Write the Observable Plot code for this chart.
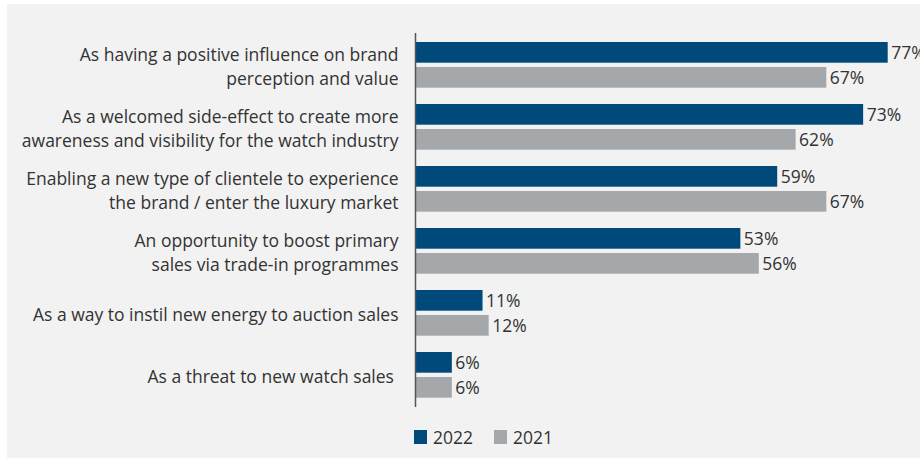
<!DOCTYPE html>
<html>
<head>
<meta charset="utf-8">
<script src="https://cdn.jsdelivr.net/npm/d3@7"></script>
<script src="https://cdn.jsdelivr.net/npm/@observablehq/plot@0.6"></script>
<style>
  html, body { margin: 0; padding: 0; background: #ffffff; }
  #panel { position: absolute; left: 7px; top: 4px; width: 913px; height: 454px; background: #f1f2f1; overflow: hidden; }
  .lg-swatch > svg { margin-right: 6px !important; }
  .lg-swatch { margin-right: 21px !important; }
</style>
</head>
<body>
<div id="panel"></div>
<script>
const questions = [
  "As having a positive influence on brand\nperception and value",
  "As a welcomed side-effect to create more\nawareness and visibility for the watch industry",
  "Enabling a new type of clientele to experience\nthe brand / enter the luxury market",
  "An opportunity to boost primary\nsales via trade-in programmes",
  "As a way to instil new energy to auction sales",
  "As a threat to new watch sales\u00a0"
];
const values2022 = [77, 73, 59, 53, 11, 6];
const values2021 = [67, 62, 67, 56, 12, 6];
const years = ["2022", "2021"];
const colors = ["#00497b", "#a5a8aa"];

const rows2022 = questions.map((q, i) => ({q, year: years[0], v: values2022[i]}));
const rows2021 = questions.map((q, i) => ({q, year: years[1], v: values2021[i]}));

const font = "'Open Sans', sans-serif";
const textColor = "#333333";

const chart = Plot.plot({
  width: 913,
  height: 410,
  marginLeft: 408,
  marginRight: 32.3,
  marginTop: 29,
  marginBottom: 7,
  style: {fontFamily: font, fontSize: "17.5px", background: "transparent", color: textColor},
  x: {domain: [0, 77], axis: null},
  y: {domain: questions, padding: 0, axis: null},
  color: {domain: years, range: colors},
  marks: [
    Plot.barX(rows2022, {x: "v", y: "q", fill: "year", insetTop: 8, insetBottom: 33.3}),
    Plot.barX(rows2021, {x: "v", y: "q", fill: "year", insetTop: 33, insetBottom: 8.3}),
    Plot.text(rows2022, {x: "v", y: "q", text: d => d.v + "%", textAnchor: "start", dx: 3, dy: -12.6, fill: textColor}),
    Plot.text(rows2021, {x: "v", y: "q", text: d => d.v + "%", textAnchor: "start", dx: 3, dy: 12.4, fill: textColor}),
    Plot.text(questions, {y: d => d, text: d => d, frameAnchor: "left", textAnchor: "end", dx: -17, lineAnchor: "middle", lineHeight: 1.37, fill: textColor}),
    Plot.ruleX([0], {stroke: "#50565c", strokeWidth: 1.5})
  ]
});

const legend = Plot.legend({
  color: {domain: years, range: colors},
  legend: "swatches",
  swatchWidth: 13,
  swatchHeight: 14,
  className: "lg",
  style: {fontFamily: font, fontSize: "17.5px", color: textColor, marginLeft: "407px", marginTop: "6px", background: "transparent"}
});

const panel = document.getElementById("panel");
panel.appendChild(chart);
panel.appendChild(legend);
</script>
</body>
</html>
